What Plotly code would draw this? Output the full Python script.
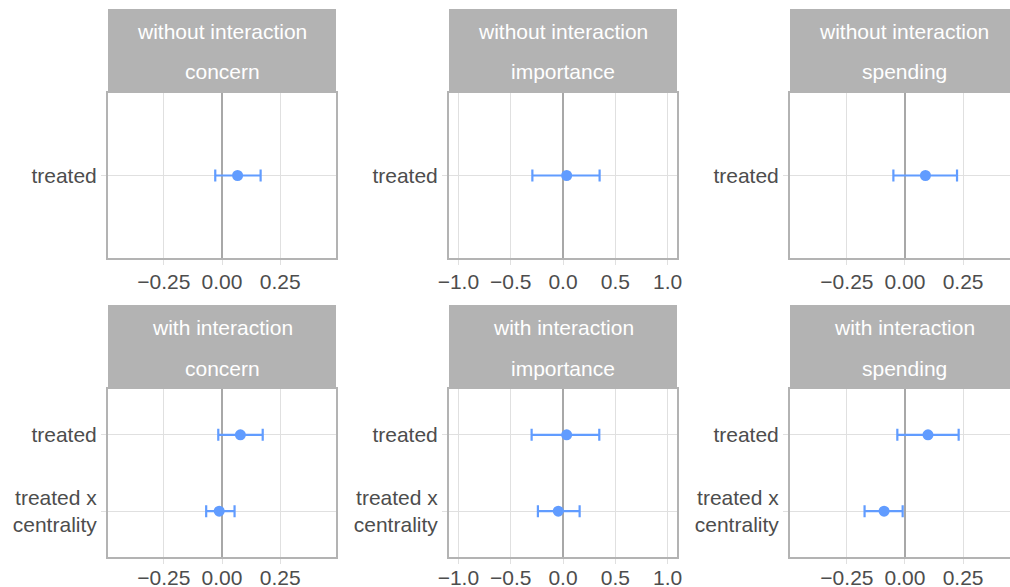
import plotly.graph_objects as go

# ---------------- data ----------------
outcomes = ["concern", "importance", "spending"]
models = ["without interaction", "with interaction"]
term_treated = "treated"
term_inter = "treated x<br>centrality"

# without interaction: treated only
wo_est = [0.067, 0.035, 0.088]
wo_lo = [-0.029, -0.293, -0.050]
wo_hi = [0.166, 0.350, 0.224]

# with interaction: treated
wi_t_est = [0.079, 0.035, 0.099]
wi_t_lo = [-0.016, -0.300, -0.033]
wi_t_hi = [0.175, 0.347, 0.231]
# with interaction: treated x centrality
wi_i_est = [-0.012, -0.045, -0.090]
wi_i_lo = [-0.068, -0.240, -0.174]
wi_i_hi = [0.054, 0.159, -0.010]

x_ranges = [[-0.49, 0.49], [-1.09, 1.09], [-0.495, 0.452]]
x_tickvals = [[-0.25, 0, 0.25], [-1.0, -0.5, 0, 0.5, 1.0], [-0.25, 0, 0.25]]
x_tickfmt = [".2f", ".1f", ".2f"]

# ---------------- layout geometry (pixels) ----------------
W, H = 1010, 587
col_px = [(108, 336), (449, 677), (790, 1010)]
col_center_px = [222, 563, 904]
row_panel_px = [(93, 258), (389, 557)]
row_strip_top_px = [9, 305]
row_label_standoff = [-1, -4]
line1_off, line2_off = 22, 63

def fx(px):
    return px / W

def fy(py):
    return 1 - py / H

BLUE = "#619CFF"
TXT = "#4D4D4D"
BORDER = "#B3B3B3"
GRID = "#E0E0E0"
ZERO = "#A8A8A8"
FONT = "Liberation Sans, Arial, Helvetica, sans-serif"

fig = go.Figure()

shapes = []
annotations = []

for r in range(2):
    for c in range(3):
        idx = r * 3 + c + 1
        xa = "xaxis" if idx == 1 else f"xaxis{idx}"
        ya = "yaxis" if idx == 1 else f"yaxis{idx}"
        xr = "x" if idx == 1 else f"x{idx}"
        yr = "y" if idx == 1 else f"y{idx}"

        if r == 0:
            ests = [wo_est[c]]
            los = [wo_lo[c]]
            his = [wo_hi[c]]
            cats = [term_treated]
            cat_order = [term_treated]
            yrange = [-0.6, 0.6]
        else:
            ests = [wi_t_est[c], wi_i_est[c]]
            los = [wi_t_lo[c], wi_i_lo[c]]
            his = [wi_t_hi[c], wi_i_hi[c]]
            cats = [term_treated, term_inter]
            cat_order = [term_inter, term_treated]
            yrange = [-0.6, 1.6]

        fig.add_trace(go.Scatter(
            x=ests, y=cats, mode="markers",
            marker=dict(color=BLUE, size=11),
            error_x=dict(type="data", symmetric=False,
                         array=[h - e for h, e in zip(his, ests)],
                         arrayminus=[e - l for e, l in zip(ests, los)],
                         color=BLUE, thickness=2.2, width=6),
            xaxis=xr, yaxis=yr, showlegend=False, hoverinfo="skip",
        ))

        x0, x1 = col_px[c]
        y0, y1 = row_panel_px[r]
        fig.layout[xa] = dict(
            domain=[fx(x0), fx(x1)], anchor=yr, range=x_ranges[c],
            tickvals=x_tickvals[c], tickformat=x_tickfmt[c],
            showgrid=True, gridcolor=GRID, gridwidth=1,
            zeroline=True, zerolinecolor=ZERO, zerolinewidth=2.2,
            showline=True, linecolor=BORDER, linewidth=2, mirror=True,
            ticks="outside", ticklen=5, tickcolor=GRID, tickwidth=1,
            ticklabelstandoff=row_label_standoff[r],
            tickfont=dict(family=FONT, size=21, color=TXT),
            automargin=False, fixedrange=True,
        )
        fig.layout[ya] = dict(
            domain=[fy(y1), fy(y0)], anchor=xr, range=yrange,
            type="category", categoryorder="array", categoryarray=cat_order,
            showgrid=True, gridcolor=GRID, gridwidth=1,
            showline=True, linecolor=BORDER, linewidth=2, mirror=True,
            ticks="outside", ticklen=5, tickcolor=GRID, tickwidth=1,
            tickfont=dict(family=FONT, size=21, color=TXT),
            automargin=False, fixedrange=True,
        )

        # strip
        st = row_strip_top_px[r]
        shapes.append(dict(type="rect", xref="paper", yref="paper",
                           x0=fx(x0), x1=fx(col_px[c][0] + 228), y0=fy(y0), y1=fy(st),
                           fillcolor="#B3B3B3", line=dict(width=0), layer="below"))
        for txt, off in [(models[r], line1_off), (outcomes[c], line2_off)]:
            annotations.append(dict(
                text=txt, xref="paper", yref="paper",
                x=fx(col_center_px[c]), y=fy(st + off),
                xanchor="center", yanchor="middle", showarrow=False,
                font=dict(family=FONT, size=21, color="white"),
            ))

fig.update_layout(
    width=W, height=H,
    margin=dict(l=0, r=0, t=0, b=0),
    paper_bgcolor="white", plot_bgcolor="white",
    shapes=shapes, annotations=annotations,
    font=dict(family=FONT, size=21, color=TXT),
)

fig.write_html("out.html")
